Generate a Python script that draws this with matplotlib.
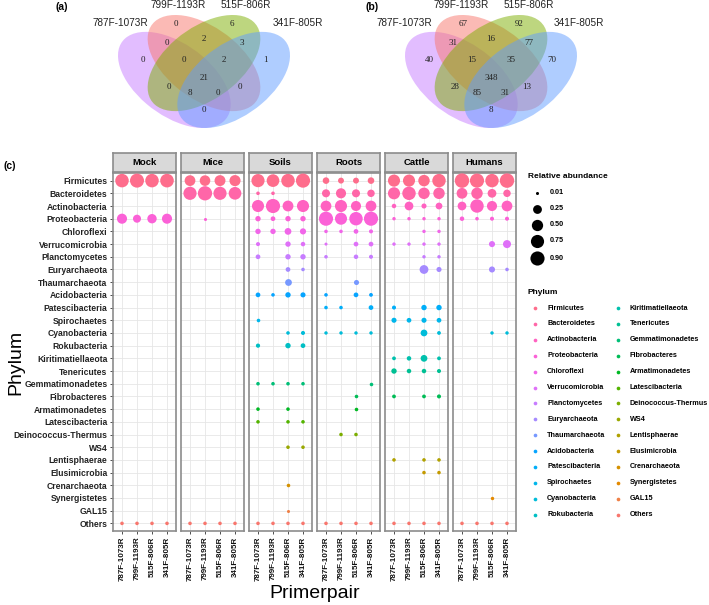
import numpy as np
import matplotlib.pyplot as plt
from matplotlib.patches import Ellipse

plt.rcParams['font.family'] = ['Liberation Sans', 'DejaVu Sans']

# %% data
primers = ['787F-1073R', '799F-1193R', '515F-806R', '341F-805R']
envs = ['Mock', 'Mice', 'Soils', 'Roots', 'Cattle', 'Humans']
phyla = ['Firmicutes', 'Bacteroidetes', 'Actinobacteria', 'Proteobacteria', 'Chloroflexi',
         'Verrucomicrobia', 'Planctomycetes', 'Euryarchaeota', 'Thaumarchaeota', 'Acidobacteria',
         'Patescibacteria', 'Spirochaetes', 'Cyanobacteria', 'Rokubacteria', 'Kiritimatiellaeota',
         'Tenericutes', 'Gemmatimonadetes', 'Fibrobacteres', 'Armatimonadetes', 'Latescibacteria',
         'Deinococcus-Thermus', 'WS4', 'Lentisphaerae', 'Elusimicrobia', 'Crenarchaeota',
         'Synergistetes', 'GAL15', 'Others']

# relative abundance, columns follow primers (0 = not detected)
mock = {
    'Firmicutes':     [0.80, 0.88, 0.80, 0.82],
    'Proteobacteria': [0.37, 0.19, 0.30, 0.37],
    'Others':         [0.012, 0.012, 0.012, 0.012],
}
mice = {
    'Firmicutes':     [0.44, 0.42, 0.46, 0.48],
    'Bacteroidetes':  [0.75, 0.92, 0.75, 0.68],
    'Proteobacteria': [0, 0.01, 0, 0],
    'Others':         [0.012, 0.012, 0.012, 0.012],
}
soils = {
    'Firmicutes':       [0.75, 0.68, 0.80, 0.90],
    'Bacteroidetes':    [0.012, 0.012, 0, 0],
    'Actinobacteria':   [0.60, 0.90, 0.45, 0.60],
    'Proteobacteria':   [0.05, 0.03, 0.05, 0.05],
    'Chloroflexi':      [0.05, 0.05, 0.11, 0.08],
    'Verrucomicrobia':  [0.017, 0, 0.05, 0.025],
    'Planctomycetes':   [0.03, 0, 0.05, 0.05],
    'Euryarchaeota':    [0, 0, 0.03, 0.012],
    'Thaumarchaeota':   [0, 0, 0.11, 0],
    'Acidobacteria':    [0.03, 0.012, 0.05, 0.04],
    'Spirochaetes':     [0.012, 0, 0, 0],
    'Cyanobacteria':    [0, 0, 0.012, 0.017],
    'Rokubacteria':     [0.02, 0, 0.05, 0.03],
    'Gemmatimonadetes': [0.012, 0.012, 0.012, 0.012],
    'Armatimonadetes':  [0.012, 0, 0.012, 0],
    'Latescibacteria':  [0.012, 0, 0.012, 0.012],
    'WS4':              [0, 0, 0.012, 0.012],
    'Crenarchaeota':    [0, 0, 0.012, 0],
    'GAL15':            [0, 0, 0.01, 0],
    'Others':           [0.012, 0.012, 0.012, 0.012],
}
roots = {
    'Firmicutes':          [0.10, 0.07, 0.07, 0.10],
    'Bacteroidetes':       [0.19, 0.37, 0.19, 0.15],
    'Actinobacteria':      [0.44, 0.60, 0.37, 0.44],
    'Proteobacteria':      [0.90, 0.60, 0.79, 0.90],
    'Chloroflexi':         [0.012, 0.012, 0.03, 0.017],
    'Verrucomicrobia':     [0.01, 0, 0.03, 0.03],
    'Planctomycetes':      [0.012, 0, 0.025, 0.017],
    'Thaumarchaeota':      [0, 0, 0.04, 0],
    'Acidobacteria':       [0.012, 0, 0.03, 0.014],
    'Patescibacteria':     [0.012, 0.012, 0, 0.03],
    'Cyanobacteria':       [0.011, 0.011, 0.011, 0.011],
    'Gemmatimonadetes':    [0, 0, 0, 0.012],
    'Fibrobacteres':       [0, 0, 0.012, 0],
    'Armatimonadetes':     [0, 0, 0.012, 0],
    'Deinococcus-Thermus': [0, 0.012, 0.012, 0],
    'Others':              [0.012, 0.012, 0.012, 0.012],
}
cattle = {
    'Firmicutes':         [0.60, 0.60, 0.52, 0.79],
    'Bacteroidetes':      [0.60, 0.79, 0.52, 0.52],
    'Actinobacteria':     [0.025, 0.245, 0.04, 0.11],
    'Proteobacteria':     [0.011, 0.011, 0.011, 0.011],
    'Chloroflexi':        [0, 0, 0.011, 0.011],
    'Verrucomicrobia':    [0.011, 0.011, 0.011, 0.011],
    'Planctomycetes':     [0, 0, 0.011, 0.011],
    'Euryarchaeota':      [0, 0, 0.25, 0.04],
    'Patescibacteria':    [0.017, 0, 0.05, 0.05],
    'Spirochaetes':       [0.04, 0.03, 0.04, 0.03],
    'Cyanobacteria':      [0, 0, 0.11, 0.014],
    'Kiritimatiellaeota': [0.014, 0.025, 0.11, 0.014],
    'Tenericutes':        [0.05, 0.025, 0.025, 0.017],
    'Fibrobacteres':      [0.014, 0, 0.014, 0.017],
    'Lentisphaerae':      [0.012, 0, 0.012, 0.012],
    'Elusimicrobia':      [0, 0, 0.012, 0.012],
    'Others':             [0.012, 0.012, 0.012, 0.012],
}
humans = {
    'Firmicutes':      [0.95, 0.90, 0.79, 0.95],
    'Bacteroidetes':   [0.44, 0.52, 0.245, 0.15],
    'Actinobacteria':  [0.245, 0.79, 0.37, 0.44],
    'Proteobacteria':  [0.025, 0.012, 0.017, 0.017],
    'Verrucomicrobia': [0, 0, 0.076, 0.19],
    'Euryarchaeota':   [0, 0, 0.076, 0.012],
    'Cyanobacteria':   [0, 0, 0.011, 0.011],
    'Synergistetes':   [0, 0, 0.011, 0],
    'Others':          [0.012, 0.012, 0.012, 0.012],
}
env_data = [mock, mice, soils, roots, cattle, humans]

size_breaks = [0.01, 0.25, 0.50, 0.75, 0.90]

# venn counts: 1, 2, 3, 4 only; 12, 23, 34; 123, 234; 1234; 13, 134, 124, 24, 14
venn_a = [0, 0, 6, 1, 0, 2, 3, 0, 2, 21, 0, 8, 0, 0, 0]
venn_b = [40, 67, 92, 70, 31, 16, 77, 15, 35, 348, 28, 85, 31, 13, 8]

# %% layout / style
W, H = 709, 605
venn_pos = [(0.19, 0.59), (0.36, 0.80), (0.64, 0.80), (0.81, 0.59),
            (0.31, 0.69), (0.50, 0.71), (0.69, 0.69),
            (0.40, 0.59), (0.60, 0.59), (0.50, 0.48),
            (0.32, 0.43), (0.43, 0.39), (0.57, 0.39), (0.68, 0.43), (0.50, 0.29)]
venn_shapes = [((0.35, 0.47), -45, '#C77CFF'), ((0.50, 0.57), -45, '#F8766D'),
               ((0.50, 0.57), 45, '#7CAE00'), ((0.65, 0.47), 45, '#619CFF')]


def box(x0, y0, x1, y1):
    return [x0 / W, 1 - y1 / H, (x1 - x0) / W, (y1 - y0) / H]


def hue_pal(n, l=65, c=100):
    # ggplot2 default hue palette (HCL -> sRGB)
    h = np.deg2rad(np.linspace(15, 375, n + 1)[:-1])
    u, v = c * np.cos(h), c * np.sin(h)
    Xn, Yn, Zn = 0.95047, 1.0, 1.08883
    un = 4 * Xn / (Xn + 15 * Yn + 3 * Zn)
    vn = 9 * Yn / (Xn + 15 * Yn + 3 * Zn)
    Y = Yn * ((l + 16) / 116) ** 3
    up = u / (13 * l) + un
    vp = v / (13 * l) + vn
    X = Y * 9 * up / (4 * vp)
    Z = Y * (12 - 3 * up - 20 * vp) / (4 * vp)
    M = np.array([[3.2406, -1.5372, -0.4986], [-0.9689, 1.8758, 0.0415], [0.0557, -0.2040, 1.0570]])
    rgb = M @ np.vstack([X, np.full_like(X, Y), Z])
    rgb = np.where(rgb > 0.0031308, 1.055 * np.abs(rgb) ** (1 / 2.4) - 0.055, 12.92 * rgb)
    return np.clip(rgb.T, 0, 1)


def dot_size(v):
    v = np.clip(np.asarray(v, float), 0.01, 0.95)
    d = 2.2 + 8.2 * np.sqrt((v - 0.01) / 0.94)
    return d ** 2


pal = hue_pal(len(phyla))[::-1]   # Firmicutes gets the last hue, Others the first

fig = plt.figure(figsize=(W / 100, H / 100), dpi=100)

# %% venn diagrams
for vx0, counts in [(118, venn_a), (405, venn_b)]:
    ax = fig.add_axes(box(vx0, 15, vx0 + 172, 128))
    for (cx, cy), ang, col in venn_shapes:
        ax.add_patch(Ellipse((cx, cy), 0.70, 0.40, angle=ang, facecolor=col, alpha=0.5, lw=0))
    for (px, py), n in zip(venn_pos, counts):
        ax.text(px, py, str(n), ha='center', va='center', fontsize=6.5,
                family='Liberation Serif', color='#222222')
    ax.set_xlim(0.065, 0.935)
    ax.set_ylim(0.185, 0.855)
    ax.axis('off')

# %% dot plot
xs = np.arange(1, 5)
for k, (env, data) in enumerate(zip(envs, env_data)):
    x0 = 113 + 68 * k
    ax = fig.add_axes(box(x0, 173, x0 + 63, 531))
    for i, ph in enumerate(phyla):
        vals = np.array(data.get(ph, [0, 0, 0, 0]), float)
        m = vals > 0
        if m.any():
            ax.scatter(xs[m], np.full(m.sum(), len(phyla) - i), s=dot_size(vals[m]),
                       color=pal[i], lw=0, zorder=3)
    ax.set_xlim(0.4, 4.6)
    ax.set_ylim(0.4, len(phyla) + 0.6)
    ax.set_xticks(xs)
    ax.set_xticklabels(primers, rotation=90, fontsize=5.8, fontweight='bold', color='#111111')
    ax.set_yticks(np.arange(1, len(phyla) + 1))
    if k == 0:
        ax.set_yticklabels(phyla[::-1], fontsize=6.2, fontweight='bold', color='#222222')
        ax.tick_params(axis='y', length=2.5, width=0.6, color='#333333', pad=1.5)
    else:
        ax.set_yticklabels([])
        ax.tick_params(axis='y', length=0)
    ax.tick_params(axis='x', length=2.5, width=0.6, color='#333333', pad=1.5)
    ax.grid(color='#E6E6E6', lw=0.6)
    ax.set_axisbelow(True)
    for sp in ax.spines.values():
        sp.set_color('#8C8C8C')
        sp.set_linewidth(1.2)
    st = fig.add_axes(box(x0, 153, x0 + 63, 172))
    st.set_facecolor('#D9D9D9')
    st.set_xticks([])
    st.set_yticks([])
    for sp in st.spines.values():
        sp.set_color('#8C8C8C')
        sp.set_linewidth(1.2)
    st.text(0.5, 0.5, env, ha='center', va='center', fontsize=6.8, fontweight='bold',
            transform=st.transAxes)

# %% labels and legends (pixel overlay)
ov = fig.add_axes([0, 0, 1, 1])
ov.set_xlim(0, W)
ov.set_ylim(H, 0)
ov.axis('off')

for x, y, s in [(62, 7, '(a)'), (372, 7, '(b)'), (10, 166, '(c)')]:
    ov.text(x, y, s, ha='center', va='center', fontsize=7.5, fontweight='bold')

for pos in [[(120, 23), (178, 5), (246, 5), (298, 23)],
            [(404, 23), (461, 5), (529, 5), (579, 23)]]:
    for (x, y), s in zip(pos, primers):
        ov.text(x, y, s, ha='center', va='center', fontsize=7.2, color='#222222')

ov.text(16, 362, 'Phylum', rotation=90, ha='center', va='center', fontsize=14)
ov.text(315, 594, 'Primerpair', ha='center', va='center', fontsize=14)

ov.text(528, 177, 'Relative abundance', ha='left', va='center', fontsize=6, fontweight='bold')
for j, b in enumerate(size_breaks):
    y = [193, 209, 225, 241, 258][j]
    ov.scatter([537], [y], s=dot_size(b), color='black', lw=0)
    ov.text(550, y, f'{b:.2f}', ha='left', va='center', fontsize=5.2, fontweight='bold')

ov.text(528, 292, 'Phylum', ha='left', va='center', fontsize=6, fontweight='bold')
for i, ph in enumerate(phyla):
    col, row = divmod(i, 14)
    x = 535 + 83 * col
    y = 308 + 15.9 * row
    ov.scatter([x], [y], s=7, color=pal[i], lw=0)
    ov.text(x + 12, y, ph, ha='left', va='center', fontsize=5.2, fontweight='bold')

fig.savefig('out.png', dpi=100)
